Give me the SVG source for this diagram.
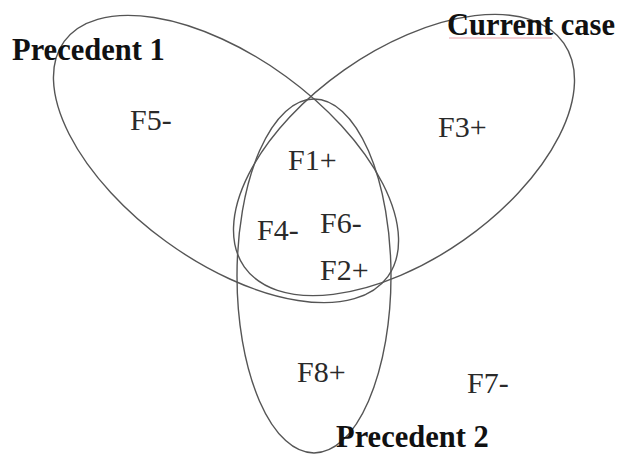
<svg xmlns="http://www.w3.org/2000/svg" width="618" height="454" viewBox="0 0 618 454">
<style>
.set{fill:none;stroke:#555;stroke-width:1.4}
.title{font-family:"Liberation Serif","Times New Roman",serif;font-weight:bold;font-size:30.5px;fill:#111}
.feat{font-family:"Liberation Serif","Times New Roman",serif;font-size:30px;fill:#2a2a2a}
</style>
<rect width="618" height="454" fill="#fff"/>
<g id="precedent1">
<ellipse class="set" cx="226" cy="159" rx="200" ry="102" transform="rotate(36 226 159)"/>
<text class="title" x="12" y="60">Precedent 1</text>
</g>
<g id="current-case">
<ellipse class="set" cx="404" cy="155" rx="195" ry="104" transform="rotate(-35 404 155)"/>
<line x1="449" y1="38" x2="552" y2="38" stroke="#e8a0a8" stroke-width="1"/>
<text class="title" x="447" y="35">Current case</text>
</g>
<g id="precedent2">
<ellipse class="set" cx="314" cy="276" rx="77" ry="177"/>
<text class="title" x="336" y="447">Precedent 2</text>
</g>
<g id="features">
<text class="feat" x="130" y="130">F5-</text>
<text class="feat" x="438" y="137">F3+</text>
<text class="feat" x="288" y="170">F1+</text>
<text class="feat" x="257" y="240">F4-</text>
<text class="feat" x="320" y="233">F6-</text>
<text class="feat" x="320" y="280">F2+</text>
<text class="feat" x="297" y="382">F8+</text>
<text class="feat" x="467" y="393">F7-</text>
</g>
<g id="connectors"/>
</svg>
